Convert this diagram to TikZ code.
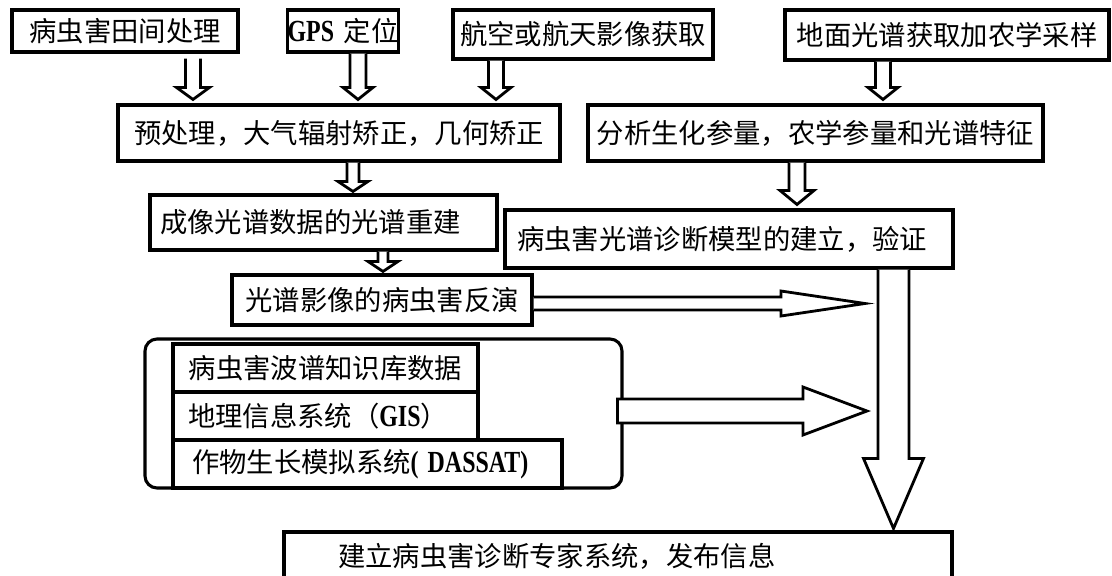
\documentclass[tikz,border=0pt]{standalone}
\usepackage{fontspec}
\setmainfont{Noto Sans CJK SC}
\newfontfamily\latfont{Liberation Serif}[FakeStretch=0.78]
\usetikzlibrary{calc}
\newcommand{\latb}[1]{{\latfont\bfseries\fontsize{23pt}{24pt}\selectfont #1}}
% vertical hollow arrow: #1 x-coordinate name, #2 from anchor, #3 to anchor, #4 top gap, #5 bottom gap, #6 shaft half, #7 head half, #8 head length (px)
\newcommand{\vdown}[8]{%
 \draw[harrow] let \p1=($(#2 -| #1)+(0,#4)$), \p2=($(#3 -| #1)+(0,-#5)$) in
  ({\x1-#6*0.75pt},\y1) -- ({\x1-#6*0.75pt},{\y2+#8*0.75pt}) -- ({\x1-#7*0.75pt},{\y2+#8*0.75pt})
  -- (\x1,\y2) -- ({\x1+#7*0.75pt},{\y2+#8*0.75pt}) -- ({\x1+#6*0.75pt},{\y2+#8*0.75pt}) -- ({\x1+#6*0.75pt},\y1);}
% horizontal hollow arrow: #1 start, #2 tip, #3 shaft half, #4 head half, #5 head length, #6 closing
\newcommand{\hright}[6]{%
 \draw[harrow] let \p1=(#1), \p2=(#2) in
  (\x1,{\y1+#3*0.75pt}) -- ({\x2-#5*0.75pt},{\y1+#3*0.75pt}) -- ({\x2-#5*0.75pt},{\y1+#4*0.75pt})
  -- (\x2,\y1) -- ({\x2-#5*0.75pt},{\y1-#4*0.75pt}) -- ({\x2-#5*0.75pt},{\y1-#3*0.75pt}) -- (\x1,{\y1-#3*0.75pt}) #6;}
\begin{document}
\begin{tikzpicture}[x=0.75pt,y=-0.75pt,
  box/.style={draw, line width=2.3pt, inner sep=0pt, align=center, font=\fontsize{20.5pt}{24pt}\selectfont},
  harrow/.style={draw, line width=2.1pt, fill=white, line join=miter}]
\fill[white] (0,0) rectangle (1112,575);
\useasboundingbox (0,0) rectangle (1112,575);
\clip (0,0) rectangle (1112,575);

% top row
\node[box, minimum width=169.5pt, minimum height=31.5pt] (b1) at (125,31) {病虫害田间处理};
\node[box, minimum width=82.5pt, minimum height=31.5pt] (b2) at (343,31) {\latb{GPS}\hspace{0.35em}定位};
\node[box, minimum width=195pt, minimum height=36.75pt] (b3) at (583,34.5) {航空或航天影像获取};
\node[box, minimum width=243pt, minimum height=37.5pt] (b4) at (947,35) {地面光谱获取加农学采样};

% second row
\node[box, minimum width=331.5pt, minimum height=42pt] (pre) at (339,133) {预处理，大气辐射矫正，几何矫正};
\node[box, minimum width=341.25pt, minimum height=42pt] (ana) at (815.5,133) {分析生化参量，农学参量和光谱特征};

% third row
\node[box, align=left, text width=245.25pt, inner xsep=7.5pt, minimum height=41.25pt] (img) at (323.5,222.5) {成像光谱数据的光谱重建};
\node[box, align=left, text width=318pt, inner xsep=9pt, minimum height=43.5pt] (diag) at (729,239) {病虫害光谱诊断模型的建立，验证};

% inversion
\node[box, minimum width=225pt, minimum height=37.5pt] (inv) at (382,300) {光谱影像的病虫害反演};

% container with databases
\node[box, rounded corners=9pt, minimum width=357.75pt, minimum height=111.75pt] (cont) at (383.5,413.5) {};
\node[box, minimum width=228.75pt, minimum height=36pt] (ib1) at (325.5,368) {病虫害波谱知识库数据};
\node[box, align=left, text width=206.25pt, inner xsep=11.25pt, minimum height=36pt] (ib2) at (325.5,416) {地理信息系统（\latb{GIS}）};
\node[box, align=left, text width=263.25pt, inner xsep=14.25pt, minimum height=36pt] (ib3) at (367.5,464) {作物生长模拟系统\latb{( DASSAT)}};

% final
\node[box, align=left, text width=420pt, inner xsep=40.5pt, minimum height=36pt] (fin) at (618,556) {建立病虫害诊断专家系统，发布信息};

% vertical arrows
\coordinate (xa1) at (193,0);
\coordinate (xa2) at (358,0);
\coordinate (xa3) at (496,0);
\coordinate (xa4) at (883,0);
\coordinate (xa5) at (353,0);
\coordinate (xa6) at (797,0);
\coordinate (xa7) at (383,0);
\coordinate (xa8) at (893.5,0);
\vdown{xa1}{b1.south}{pre.north}{5}{4}{7.5}{16.5}{12}
\vdown{xa2}{b2.south}{pre.north}{0}{4}{8}{15}{12}
\vdown{xa3}{b3.south}{pre.north}{0}{4}{7.5}{15}{12}
\vdown{xa4}{b4.south}{ana.north}{0}{4}{7.5}{15}{12}
\vdown{xa5}{pre.south}{img.north}{0}{2}{6}{15}{10}
\vdown{xa6}{ana.south}{diag.north}{0}{4}{8}{17}{14}
\vdown{xa7}{img.south}{inv.north}{0}{2}{5}{15}{10}
\vdown{xa8}{diag.south}{fin.north}{0}{2}{15.5}{30}{70}

% horizontal arrows
\coordinate (h1s) at ($(inv.east)+(0,3.5)$);
\coordinate (t1) at (865,303.5);
\hright{h1s}{t1}{6.5}{12.5}{84}{}
\coordinate (h2s) at ($(cont.east)+(-6,-2.5)$);
\coordinate (t2) at (867,411);
\hright{h2s}{t2}{12}{24}{64}{-- cycle}
\end{tikzpicture}
\end{document}
